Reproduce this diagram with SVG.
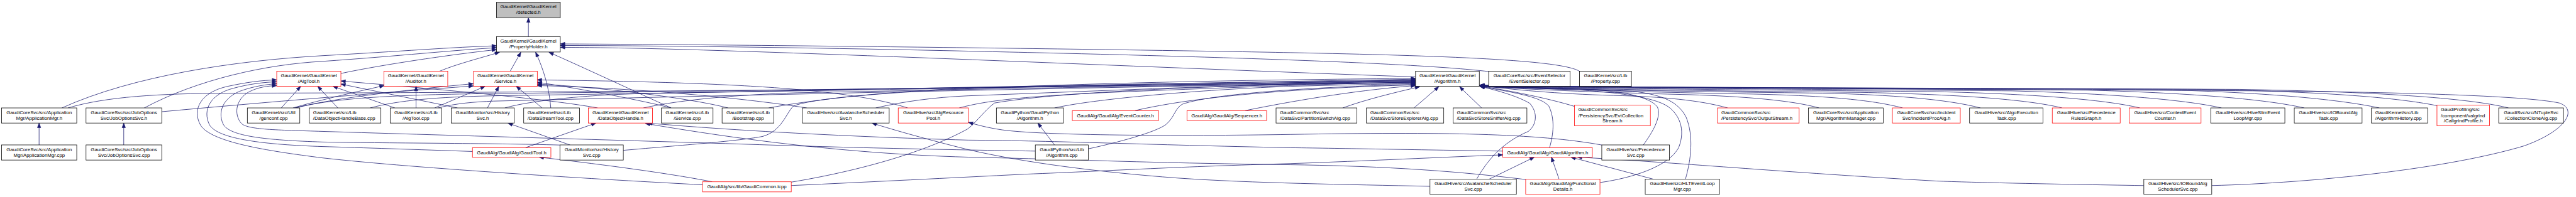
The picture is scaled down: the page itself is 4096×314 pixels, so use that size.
<svg xmlns="http://www.w3.org/2000/svg" width="4096" height="314" viewBox="0 0 4096 314">
<defs>
<marker id="a" markerUnits="userSpaceOnUse" markerWidth="13" markerHeight="10" refX="12" refY="4.5" orient="auto" overflow="visible"><path d="M0,0 L12,4.5 L0,9 z" fill="#191970" stroke="#191970" stroke-width="1"/></marker>
<style>
.k{fill:#fff;stroke:#000;stroke-width:1.3}
.r{fill:#fff;stroke:#ff0000;stroke-width:1.3}
.g{fill:#bfbfbf;stroke:#000;stroke-width:1.3}
text{font-family:"Liberation Sans",Arial,sans-serif;font-size:13px;fill:#000}
.m{text-anchor:middle}
#edges path{fill:none;stroke:#191970;stroke-width:1.3;marker-end:url(#a)}
</style>
</defs>
<rect width="4096" height="314" fill="#fff"/>
<g transform="scale(0.6036)">
<g id="edges">
<path d="M1392,97 L1392,47"/>
<path d="M898,194 C1000,172 1180,145 1308,131"/>
<path d="M1158,188 C1200,170 1270,152 1316,138"/>
<path d="M1344,188 L1372,138"/>
<path d="M1451,285 C1447,235 1433,185 1411,138"/>
<path d="M1768,285 C1680,245 1530,175 1446,138"/>
<path d="M163,285 C350,200 620,160 850,147 C1050,136 1200,124 1308,121"/>
<path d="M380,285 C520,210 700,170 850,162 C1050,148 1200,132 1308,126"/>
<path d="M3729,203 C3200,185 2200,140 1700,128 C1600,126 1520,125 1476,125"/>
<path d="M3922,189 C3700,162 3000,145 2550,135 C2200,127 1800,121 1476,120"/>
<path d="M4162,189 C4120,158 3800,147 3400,139 C3000,131 2000,118 1476,116"/>
<path d="M741,285 L792,228"/>
<path d="M890,285 L837,228"/>
<path d="M1040,285 L877,228"/>
<path d="M1205,285 L898,222"/>
<path d="M1574,285 C1450,262 1150,235 898,214"/>
<path d="M2727,399 C2600,397 2300,392 2000,382 C1700,372 1200,358 850,347 C730,343 650,343 635,325 C615,300 622,262 655,243 C680,230 705,227 729,226"/>
<path d="M1475,383 C1300,378 1000,378 850,375 C700,370 605,360 588,328 C570,290 595,252 640,238 C670,228 700,223 729,221"/>
<path d="M1245,400 C1100,395 950,390 850,387 C700,382 575,368 552,330 C532,290 555,248 615,233 C655,222 695,217 729,216"/>
<path d="M1851,488 C1600,475 1100,445 850,417 C700,398 555,375 528,330 C505,288 530,243 600,228 C650,217 690,212 729,211"/>
<path d="M772,285 C850,262 950,240 1012,226"/>
<path d="M1096,285 L1096,228"/>
<path d="M776,285 C900,255 1100,235 1247,221"/>
<path d="M426,295 C700,270 1000,245 1247,227"/>
<path d="M1145,285 L1278,228"/>
<path d="M1284,285 L1314,228"/>
<path d="M1428,285 L1360,228"/>
<path d="M1768,285 C1660,258 1500,230 1415,217"/>
<path d="M1918,285 C1800,255 1550,228 1415,222"/>
<path d="M2125,285 C1900,250 1600,230 1415,226"/>
<path d="M2391,285 C2250,240 2000,218 1415,211"/>
<path d="M179,285 C280,255 420,247 600,246 C1500,245 2900,232 3729,211"/>
<path d="M780,285 C880,258 1050,250 1300,247 C2000,240 3000,225 3729,213"/>
<path d="M975,285 C1050,265 1150,256 1300,253 C2000,242 3000,225 3729,215"/>
<path d="M1154,285 C1200,273 1250,269 1300,267 C2000,250 3000,228 3729,217"/>
<path d="M1330,285 C1400,265 1550,250 1700,247 C2300,235 3100,220 3729,209"/>
<path d="M1695,285 C1800,262 1950,250 2100,245 C2600,235 3200,223 3729,218"/>
<path d="M1642,397 C1800,383 1950,372 2010,360 C2060,345 2070,300 2090,280 C2200,235 3000,213 3729,207"/>
<path d="M2025,285 C2150,262 2350,240 2550,233 C2900,225 3300,216 3729,212"/>
<path d="M2307,285 C2380,268 2460,257 2550,253 C2900,240 3300,222 3729,214"/>
<path d="M2527,285 C2600,265 2700,255 2900,245 C3200,232 3500,222 3729,216"/>
<path d="M2084,481 C2300,445 2460,390 2550,340 C2575,320 2595,290 2620,272 C2800,240 3300,221 3729,219"/>
<path d="M2778,285 C2900,258 3200,235 3400,228 C3550,224 3650,222 3729,221"/>
<path d="M2867,393 C2950,375 3040,350 3070,330 C3095,310 3095,285 3115,275 C3200,245 3500,228 3729,223"/>
<path d="M2990,292 C3150,255 3400,234 3729,224"/>
<path d="M3280,292 C3380,272 3550,240 3729,226"/>
<path d="M3537,285 C3600,262 3680,243 3740,229"/>
<path d="M3725,285 L3790,229"/>
<path d="M3903,285 L3845,229"/>
<path d="M3890,473 C3920,420 3960,375 4026,347 C4048,330 4052,298 4030,273 C4000,255 3950,240 3898,228"/>
<path d="M4082,390 C4092,355 4097,315 4080,280 C4060,255 3980,243 3899,228"/>
<path d="M4148,281 C4080,260 3980,240 3899,227"/>
<path d="M4329,383 C4352,350 4378,310 4366,282 C4340,250 4250,238 4150,234 C4050,231 3960,230 3899,227"/>
<path d="M4215,482 C4300,470 4395,440 4422,390 C4442,340 4422,300 4392,280 C4352,255 4250,243 4150,237 C4050,233 3960,232 3899,228"/>
<path d="M4440,473 C4455,420 4462,360 4442,310 C4422,270 4382,250 4300,241 C4150,233 3980,231 3899,227"/>
<path d="M4551,285 C4480,265 4380,255 4250,252 C4100,248 3980,236 3898,226"/>
<path d="M4792,285 C4720,265 4600,255 4450,250 C4250,245 4000,236 3898,227"/>
<path d="M5012,285 C4930,263 4800,252 4600,248 C4350,244 4020,234 3898,227"/>
<path d="M5217,285 C5130,262 4980,250 4800,246 C4450,242 4050,235 3898,227"/>
<path d="M5432,285 C5340,262 5150,249 4900,244 C4500,240 4060,234 3898,226"/>
<path d="M5637,285 C5540,262 5350,248 5100,242 C4600,237 4070,233 3898,226"/>
<path d="M5852,285 C5750,262 5550,247 5300,240 C4700,235 4080,232 3898,226"/>
<path d="M6070,285 C5960,260 5750,245 5500,238 C4800,233 4090,232 3898,226"/>
<path d="M6268,285 C6150,260 5950,244 5700,237 C4900,232 4100,231 3898,225"/>
<path d="M6420,279 C6300,255 6100,242 5800,236 C5000,232 4100,231 3898,225"/>
<path d="M6608,285 C6500,258 6250,242 5900,236 C5100,232 4100,231 3898,225"/>
<path d="M5826,490 C6100,483 6450,445 6650,385 C6760,345 6792,290 6742,272 C6650,252 6300,243 5950,240 C5300,236 4400,233 3898,225"/>
<path d="M103,383 L103,325"/>
<path d="M326,383 L326,325"/>
<path d="M1502,383 L1338,325"/>
<path d="M1384,390 L1570,325"/>
<path d="M3959,399 C3700,395 3550,392 3400,390 C3000,382 2800,372 2550,370 C2200,360 1900,342 1706,325"/>
<path d="M4019,474 C3800,447 3600,438 3400,435 C3000,430 2800,420 2550,415 C2200,405 1900,360 1700,326"/>
<path d="M2778,383 L2734,325"/>
<path d="M3767,492 C3550,487 3300,484 3100,470 C2900,455 2700,430 2550,395 C2450,370 2360,345 2297,325"/>
<path d="M4220,383 C4050,352 3800,348 3400,355 C3100,360 2750,358 2640,343 C2600,337 2575,330 2551,323"/>
<path d="M1876,480 C1750,455 1550,430 1420,415"/>
<path d="M2084,490 C2300,480 2500,470 2700,460 C2950,450 3100,440 3400,432 C3600,425 3800,415 3959,409"/>
<path d="M3923,473 L4042,415"/>
<path d="M4107,473 L4087,415"/>
<path d="M4355,473 L4138,415"/>
<path d="M5647,490 C5400,486 5200,482 5100,478 C4700,455 4400,428 4155,415"/>
</g>
<g id="n0"><rect class="g" x="1308" y="6" width="168" height="41"/><text class="m" x="1392" y="22">GaudiKernel/GaudiKernel</text><text class="m" x="1392" y="37">/detected.h</text></g>
<g id="n1"><rect class="k" x="1308" y="96.7" width="168" height="40.6"/><text class="m" x="1392" y="112.7">GaudiKernel/GaudiKernel</text><text class="m" x="1392" y="127.7">/PropertyHolder.h</text></g>
<g id="n2"><rect class="r" x="729" y="188" width="169" height="40"/><text class="m" x="813.5" y="204">GaudiKernel/GaudiKernel</text><text class="m" x="813.5" y="219">/AlgTool.h</text></g>
<g id="n3"><rect class="r" x="1011.5" y="188" width="168" height="40"/><text class="m" x="1095.5" y="204">GaudiKernel/GaudiKernel</text><text class="m" x="1095.5" y="219">/Auditor.h</text></g>
<g id="n4"><rect class="r" x="1247.4" y="188" width="168" height="40"/><text class="m" x="1331.4" y="204">GaudiKernel/GaudiKernel</text><text class="m" x="1331.4" y="219">/Service.h</text></g>
<g id="n5"><rect class="k" x="3729" y="188" width="168" height="40"/><text class="m" x="3813" y="204">GaudiKernel/GaudiKernel</text><text class="m" x="3813" y="219">/Algorithm.h</text></g>
<g id="n6"><rect class="k" x="3921.5" y="188" width="214.7" height="40"/><text class="m" x="4028.9" y="204">GaudiCoreSvc/src/EventSelector</text><text class="m" x="4028.9" y="219">/EventSelector.cpp</text></g>
<g id="n7"><rect class="k" x="4161" y="188" width="136.7" height="40"/><text class="m" x="4229.4" y="204">GaudiKernel/src/Lib</text><text class="m" x="4229.4" y="219">/Property.cpp</text></g>
<g id="n8"><rect class="k" x="4.3" y="285" width="197.9" height="40"/><text class="m" x="103.2" y="301">GaudiCoreSvc/src/Application</text><text class="m" x="103.2" y="316">Mgr/ApplicationMgr.h</text></g>
<g id="n9"><rect class="k" x="226.6" y="285" width="199.5" height="40"/><text class="m" x="326.4" y="301">GaudiCoreSvc/src/JobOptions</text><text class="m" x="326.4" y="316">Svc/JobOptionsSvc.h</text></g>
<g id="n10"><rect class="k" x="651.6" y="285" width="138.2" height="40"/><text class="m" x="720.7" y="301">GaudiKernel/src/Util</text><text class="m" x="720.7" y="316">/genconf.cpp</text></g>
<g id="n11"><rect class="k" x="814.8" y="285" width="188.6" height="40"/><text x="824.8" y="301">GaudiKernel/src/Lib</text><text x="824.8" y="316">/DataObjectHandleBase.cpp</text></g>
<g id="n12"><rect class="k" x="1027.8" y="285" width="135.5" height="40"/><text class="m" x="1095.6" y="301">GaudiKernel/src/Lib</text><text class="m" x="1095.6" y="316">/AlgTool.cpp</text></g>
<g id="n13"><rect class="k" x="1188.8" y="285" width="165.9" height="40"/><text class="m" x="1271.8" y="301">GaudiMonitor/src/History</text><text class="m" x="1271.8" y="316">Svc.h</text></g>
<g id="n14"><rect class="k" x="1379.6" y="285" width="146.9" height="40"/><text x="1389.6" y="301">GaudiKernel/src/Lib</text><text x="1389.6" y="316">/DataStreamTool.cpp</text></g>
<g id="n15"><rect class="r" x="1549.8" y="285" width="169.2" height="40"/><text class="m" x="1634.4" y="301">GaudiKernel/GaudiKernel</text><text class="m" x="1634.4" y="316">/DataObjectHandle.h</text></g>
<g id="n16"><rect class="k" x="1742.3" y="285" width="136" height="40"/><text class="m" x="1810.3" y="301">GaudiKernel/src/Lib</text><text class="m" x="1810.3" y="316">/Service.cpp</text></g>
<g id="n17"><rect class="k" x="1902.2" y="285" width="136.6" height="40"/><text class="m" x="1970.5" y="301">GaudiKernel/src/Lib</text><text class="m" x="1970.5" y="316">/Bootstrap.cpp</text></g>
<g id="n18"><rect class="k" x="2113.6" y="285" width="228.8" height="40"/><text class="m" x="2228" y="301">GaudiHive/src/AvalancheScheduler</text><text class="m" x="2228" y="316">Svc.h</text></g>
<g id="n19"><rect class="r" x="2366.2" y="285" width="184.8" height="40"/><text class="m" x="2458.6" y="301">GaudiHive/src/AlgResource</text><text class="m" x="2458.6" y="316">Pool.h</text></g>
<g id="n20"><rect class="k" x="2624.8" y="285" width="176.7" height="40"/><text class="m" x="2713.2" y="301">GaudiPython/GaudiPython</text><text class="m" x="2713.2" y="316">/Algorithm.h</text></g>
<g id="n21"><rect class="r" x="2824.8" y="292.3" width="227.2" height="26"/><text class="m" x="2938.4" y="309.5">GaudiAlg/GaudiAlg/EventCounter.h</text></g>
<g id="n22"><rect class="r" x="3126.8" y="292.3" width="209.8" height="26"/><text class="m" x="3231.7" y="309.5">GaudiAlg/GaudiAlg/Sequencer.h</text></g>
<g id="n23"><rect class="k" x="3361.5" y="285" width="213.1" height="40"/><text x="3371.5" y="301">GaudiCommonSvc/src</text><text x="3371.5" y="316">/DataSvc/PartitionSwitchAlg.cpp</text></g>
<g id="n24"><rect class="k" x="3599.5" y="285" width="203.8" height="40"/><text x="3609.5" y="301">GaudiCommonSvc/src</text><text x="3609.5" y="316">/DataSvc/StoreExplorerAlg.cpp</text></g>
<g id="n25"><rect class="k" x="3827.7" y="285" width="194.6" height="40"/><text x="3837.7" y="301">GaudiCommonSvc/src</text><text x="3837.7" y="316">/DataSvc/StoreSnifferAlg.cpp</text></g>
<g id="n26"><rect class="r" x="4147.6" y="277.7" width="200" height="54.6"/><text x="4157.6" y="294">GaudiCommonSvc/src</text><text x="4157.6" y="309">/PersistencySvc/EvtCollection</text><text class="m" x="4247.6" y="323.5">Stream.h</text></g>
<g id="n27"><rect class="r" x="4524.3" y="285" width="215.2" height="40"/><text x="4534.3" y="301">GaudiCommonSvc/src</text><text x="4534.3" y="316">/PersistencySvc/OutputStream.h</text></g>
<g id="n28"><rect class="k" x="4763.9" y="285" width="197.3" height="40"/><text class="m" x="4862.5" y="301">GaudiCoreSvc/src/Application</text><text class="m" x="4862.5" y="316">Mgr/AlgorithmManager.cpp</text></g>
<g id="n29"><rect class="r" x="4985.1" y="285" width="178.9" height="40"/><text class="m" x="5074.5" y="301">GaudiCoreSvc/src/Incident</text><text class="m" x="5074.5" y="316">Svc/IncidentProcAlg.h</text></g>
<g id="n30"><rect class="k" x="5188.4" y="285" width="193.5" height="40"/><text class="m" x="5285.2" y="301">GaudiHive/src/AlgoExecution</text><text class="m" x="5285.2" y="316">Task.cpp</text></g>
<g id="n31"><rect class="r" x="5406.3" y="285" width="178.9" height="40"/><text class="m" x="5495.8" y="301">GaudiHive/src/Precedence</text><text class="m" x="5495.8" y="316">RulesGraph.h</text></g>
<g id="n32"><rect class="r" x="5609" y="285" width="189.2" height="40"/><text class="m" x="5703.6" y="301">GaudiHive/src/ContextEvent</text><text class="m" x="5703.6" y="316">Counter.h</text></g>
<g id="n33"><rect class="k" x="5823.7" y="285" width="195.3" height="40"/><text class="m" x="5921.4" y="301">GaudiHive/src/HiveSlimEvent</text><text class="m" x="5921.4" y="316">LoopMgr.cpp</text></g>
<g id="n34"><rect class="k" x="6043.8" y="285" width="178.6" height="40"/><text class="m" x="6133.1" y="301">GaudiHive/src/IOBoundAlg</text><text class="m" x="6133.1" y="316">Task.cpp</text></g>
<g id="n35"><rect class="k" x="6247" y="285" width="148.2" height="40"/><text x="6257" y="301">GaudiKernel/src/Lib</text><text x="6257" y="316">/AlgorithmHistory.cpp</text></g>
<g id="n36"><rect class="r" x="6419.7" y="277.7" width="138.6" height="54.6"/><text x="6429.7" y="294">GaudiProfiling/src</text><text x="6429.7" y="309">/component/valgrind</text><text class="m" x="6489" y="323.5">/CallgrindProfile.h</text></g>
<g id="n37"><rect class="k" x="6582.3" y="285" width="170.7" height="40"/><text class="m" x="6667.7" y="301">GaudiSvc/src/NTupleSvc</text><text class="m" x="6667.7" y="316">/CollectionCloneAlg.cpp</text></g>
<g id="n38"><rect class="k" x="4.3" y="382.7" width="197.9" height="40"/><text class="m" x="103.2" y="398.7">GaudiCoreSvc/src/Application</text><text class="m" x="103.2" y="413.7">Mgr/ApplicationMgr.cpp</text></g>
<g id="n39"><rect class="k" x="226.6" y="382.7" width="199.5" height="40"/><text class="m" x="326.4" y="398.7">GaudiCoreSvc/src/JobOptions</text><text class="m" x="326.4" y="413.7">Svc/JobOptionsSvc.cpp</text></g>
<g id="n40"><rect class="r" x="1244.6" y="390" width="206.6" height="25.3"/><text class="m" x="1347.9" y="407">GaudiAlg/GaudiAlg/GaudiTool.h</text></g>
<g id="n41"><rect class="k" x="1475" y="382.7" width="167" height="40"/><text class="m" x="1558.5" y="398.7">GaudiMonitor/src/History</text><text class="m" x="1558.5" y="413.7">Svc.cpp</text></g>
<g id="n42"><rect class="k" x="2727.3" y="382.7" width="139.8" height="40"/><text class="m" x="2797.2" y="398.7">GaudiPython/src/Lib</text><text class="m" x="2797.2" y="413.7">/Algorithm.cpp</text></g>
<g id="n43"><rect class="r" x="3958.9" y="390" width="235.8" height="25.3"/><text class="m" x="4076.8" y="407">GaudiAlg/GaudiAlg/GaudiAlgorithm.h</text></g>
<g id="n44"><rect class="k" x="4219.6" y="382.7" width="178.4" height="40"/><text class="m" x="4308.8" y="398.7">GaudiHive/src/Precedence</text><text class="m" x="4308.8" y="413.7">Svc.cpp</text></g>
<g id="n45"><rect class="r" x="1850.7" y="480" width="233.7" height="26.7"/><text class="m" x="1967.5" y="497.5">GaudiAlg/src/lib/GaudiCommon.icpp</text></g>
<g id="n46"><rect class="k" x="3767" y="473" width="227.7" height="40"/><text class="m" x="3880.8" y="489">GaudiHive/src/AvalancheScheduler</text><text class="m" x="3880.8" y="504">Svc.cpp</text></g>
<g id="n47"><rect class="r" x="4019.1" y="473" width="195.7" height="40"/><text class="m" x="4117" y="489">GaudiAlg/GaudiAlg/Functional</text><text class="m" x="4117" y="504">Details.h</text></g>
<g id="n48"><rect class="k" x="4334" y="473" width="195.7" height="40"/><text class="m" x="4431.8" y="489">GaudiHive/src/HLTEventLoop</text><text class="m" x="4431.8" y="504">Mgr.cpp</text></g>
<g id="n49"><rect class="k" x="5647.5" y="473" width="178.9" height="40"/><text class="m" x="5737" y="489">GaudiHive/src/IOBoundAlg</text><text class="m" x="5737" y="504">SchedulerSvc.cpp</text></g>
</g>
</svg>
